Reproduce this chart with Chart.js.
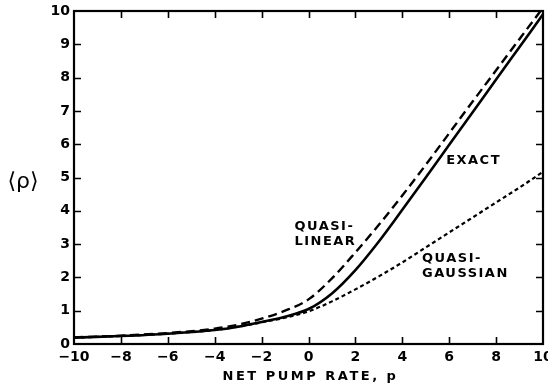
<!DOCTYPE html>
<html><head><meta charset="utf-8">
<script src="https://cdn.jsdelivr.net/npm/chart.js@4.4.0/dist/chart.umd.min.js"></script>
<style>html,body{margin:0;padding:0;background:#fff;}#wrap{width:548px;height:385px;}</style>
</head><body><div id="wrap"><canvas id="c" width="548" height="385"></canvas></div>
<script>
// Net pump rate p (x) and mean intensity <rho> (y)
const pumpRate = [-10, -8, -6, -4, -3, -2, -1, 0, 1, 2, 3, 4, 5, 6, 7, 8, 9, 10];
const exactRho = [0.19, 0.24, 0.31, 0.42, 0.52, 0.66, 0.82, 1.05, 1.52, 2.22, 3.08, 4.03, 5.00, 5.98, 6.96, 7.94, 8.92, 9.90];
const quasiLinearRho = [0.20, 0.25, 0.33, 0.46, 0.58, 0.76, 1.00, 1.34, 1.97, 2.75, 3.58, 4.46, 5.38, 6.33, 7.28, 8.22, 9.16, 10.10];
const quasiGaussianRho = [0.19, 0.24, 0.31, 0.42, 0.52, 0.65, 0.79, 0.98, 1.28, 1.64, 2.03, 2.45, 2.90, 3.35, 3.80, 4.25, 4.70, 5.17];

const xTickValues = [-10, -8, -6, -4, -2, 0, 2, 4, 6, 8, 10];
const xTickLabels = ['\u221210', '\u22128', '\u22126', '\u22124', '\u22122', '0', '2', '4', '6', '8', '10'];
const yTickValues = [0, 1, 2, 3, 4, 5, 6, 7, 8, 9, 10];
const yTickLabels = ['0', '1', '2', '3', '4', '5', '6', '7', '8', '9', '10'];
const xAxisTitle = 'NET PUMP RATE, p';
const yAxisTitle = '\u27E8\u03C1\u27E9';
const curveNames = {exact: ['EXACT'], linear: ['QUASI-', 'LINEAR'], gauss: ['QUASI-', 'GAUSSIAN']};

function pts(ys) { return pumpRate.map((p, i) => ({x: p, y: ys[i]})); }

const framePlugin = {
  id: 'frame',
  afterDraw(chart) {
    const ctx = chart.ctx;
    const a = chart.chartArea;
    const xs = chart.scales.x, ys = chart.scales.y;
    ctx.save();
    ctx.strokeStyle = '#000';
    ctx.lineWidth = 1.6;
    ctx.beginPath();
    xTickValues.forEach(v => {
      if (v === xs.min || v === xs.max) return;
      const px = Math.round(xs.getPixelForValue(v)) + 0.5;
      ctx.moveTo(px, a.bottom); ctx.lineTo(px, a.bottom - 7);
      ctx.moveTo(px, a.top); ctx.lineTo(px, a.top + 7);
    });
    yTickValues.forEach(v => {
      if (v === ys.min || v === ys.max) return;
      const py = Math.round(ys.getPixelForValue(v)) + 0.5;
      ctx.moveTo(a.left, py); ctx.lineTo(a.left + 7, py);
      ctx.moveTo(a.right, py); ctx.lineTo(a.right - 7, py);
    });
    ctx.stroke();
    ctx.lineWidth = 2.2;
    ctx.strokeRect(a.left, a.top, a.right - a.left, a.bottom - a.top);

    // curve annotations
    ctx.fillStyle = '#000';
    ctx.textBaseline = 'middle';
    ctx.textAlign = 'left';
    ctx.font = 'bold 13px "DejaVu Sans"';
    ctx.letterSpacing = '1.5px';
    const put = (lines, xv, yv) => {
      const x0 = xs.getPixelForValue(xv), y0 = ys.getPixelForValue(yv);
      lines.forEach((t, i) => ctx.fillText(t, x0, y0 + i * 15));
    };
    put(curveNames.exact, 5.87, 5.52);
    put(curveNames.linear, -0.6, 3.51);
    put(curveNames.gauss, 4.84, 2.55);

    // axis titles
    ctx.textAlign = 'center';
    ctx.font = 'bold 13px "DejaVu Sans"';
    ctx.letterSpacing = '2.5px';
    ctx.fillText(xAxisTitle, xs.getPixelForValue(0) + 2, 377);
    ctx.letterSpacing = '0px';
    ctx.font = '22px "DejaVu Sans"';
    ctx.fillText(yAxisTitle, 23, ys.getPixelForValue(4.85));
    ctx.restore();
  }
};

new Chart(document.getElementById('c'), {
  type: 'line',
  data: {
    datasets: [
      {label: 'Exact', data: pts(exactRho), borderColor: '#000', borderWidth: 2.6, pointRadius: 0, cubicInterpolationMode: 'monotone', clip: 0},
      {label: 'Quasi-linear', data: pts(quasiLinearRho), borderColor: '#000', borderWidth: 2.4, borderDash: [9, 5], pointRadius: 0, cubicInterpolationMode: 'monotone', clip: 0},
      {label: 'Quasi-Gaussian', data: pts(quasiGaussianRho), borderColor: '#000', borderWidth: 2.2, borderDash: [4, 3], pointRadius: 0, cubicInterpolationMode: 'monotone', clip: 0}
    ]
  },
  options: {
    responsive: false,
    animation: false,
    devicePixelRatio: 1,
    layout: {padding: {top: 11, right: 5, bottom: 0, left: 0}},
    plugins: {legend: {display: false}, tooltip: {enabled: false}},
    scales: {
      x: {
        type: 'linear', min: -10, max: 10,
        afterBuildTicks: s => { s.ticks = xTickValues.map(v => ({value: v})); },
        afterFit: s => { s.height = 41; s.paddingLeft = 0; s.paddingRight = 0; },
        grid: {display: false, drawTicks: false},
        border: {display: false},
        ticks: {
          padding: 5, maxRotation: 0, autoSkip: false, color: '#000',
          font: {family: '"DejaVu Sans"', size: 14, weight: 'bold'},
          callback: v => xTickLabels[xTickValues.indexOf(v)]
        }
      },
      y: {
        type: 'linear', min: 0, max: 10,
        afterBuildTicks: s => { s.ticks = yTickValues.map(v => ({value: v})); },
        afterFit: s => { s.width = 74; s.paddingTop = 0; s.paddingBottom = 0; },
        grid: {display: false, drawTicks: false},
        border: {display: false},
        ticks: {
          padding: 4, autoSkip: false, color: '#000',
          font: {family: '"DejaVu Sans"', size: 14, weight: 'bold'},
          callback: v => yTickLabels[yTickValues.indexOf(v)]
        }
      }
    }
  },
  plugins: [framePlugin]
});
</script>
</body></html>
